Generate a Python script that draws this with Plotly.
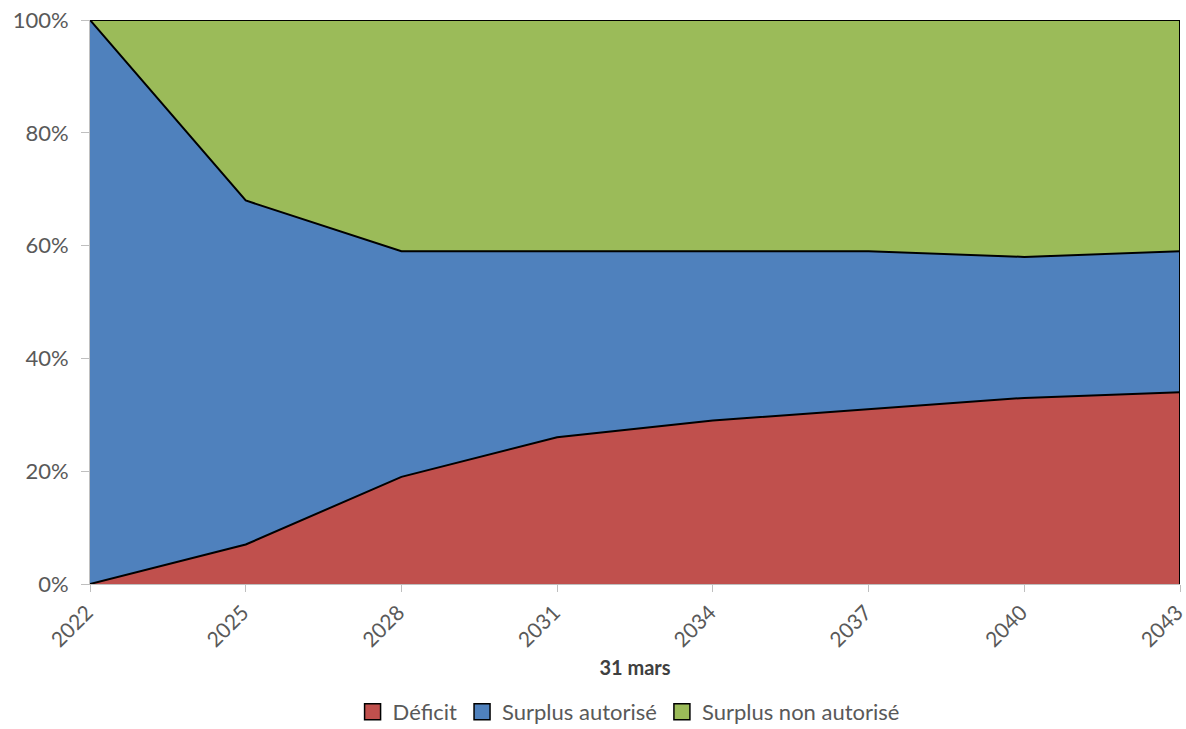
import plotly.graph_objects as go

years = [2022, 2025, 2028, 2031, 2034, 2037, 2040, 2043]
deficit = [0, 7, 19, 26, 29, 31, 33, 34]
surplus_autorise = [100, 61, 40, 33, 30, 28, 25, 25]
surplus_non_autorise = [0, 32, 41, 41, 41, 41, 42, 41]
y_ticks = [0, 20, 40, 60, 80, 100]

series = [
    ("Déficit", deficit, "#C0504D"),
    ("Surplus autorisé", surplus_autorise, "#4F81BD"),
    ("Surplus non autorisé", surplus_non_autorise, "#9BBB59"),
]

font_family = "Lato, Open Sans, sans-serif"

fig = go.Figure()
for name, vals, col in series:
    fig.add_trace(go.Scatter(
        x=years, y=vals, name=name, mode="lines",
        stackgroup="one", groupnorm="percent",
        fillcolor=col, line=dict(color="black", width=2),
        showlegend=False,
    ))
for name, vals, col in series:
    fig.add_trace(go.Scatter(
        x=[None], y=[None], name=name, mode="markers",
        marker=dict(symbol="square", size=16, color=col,
                    line=dict(color="black", width=1.5)),
    ))

fig.add_shape(type="line", xref="x", yref="y",
              x0=years[-1], x1=years[-1], y0=0, y1=100,
              line=dict(color="black", width=2))

fig.update_layout(
    width=1186, height=729,
    margin=dict(l=90, r=6, t=20, b=145, autoexpand=False),
    paper_bgcolor="white", plot_bgcolor="white",
    font=dict(family=font_family, color="#595959", size=22),
    showlegend=True,
    legend=dict(orientation="h", x=0.53, xanchor="center", xref="container",
                yref="paper", y=-0.227, yanchor="middle",
                font=dict(size=22, color="#595959"), traceorder="normal",
                itemwidth=30),
    xaxis=dict(
        range=[years[0], years[-1]], tickvals=years, ticktext=[str(y) for y in years],
        tickangle=-45, showgrid=False, zeroline=False, automargin=False,
        ticklabeloverflow="allow", ticklabelshift=-3, tickfont=dict(size=21),
        showline=True, linecolor="#BFBFBF", linewidth=1,
        ticks="outside", tickcolor="#BFBFBF", ticklen=7,
        title=dict(text="<b>31 mars</b>", font=dict(size=20, color="#404040"), standoff=10),
    ),
    yaxis=dict(
        range=[0, 100], tickvals=y_ticks, ticktext=[f"{v}%" for v in y_ticks],
        showgrid=False, zeroline=False, showline=True, linecolor="#BFBFBF",
        automargin=False, ticklabelstandoff=8,
        ticks="outside", tickcolor="#BFBFBF", ticklen=8,
    ),
)

fig.write_html("out.html")
